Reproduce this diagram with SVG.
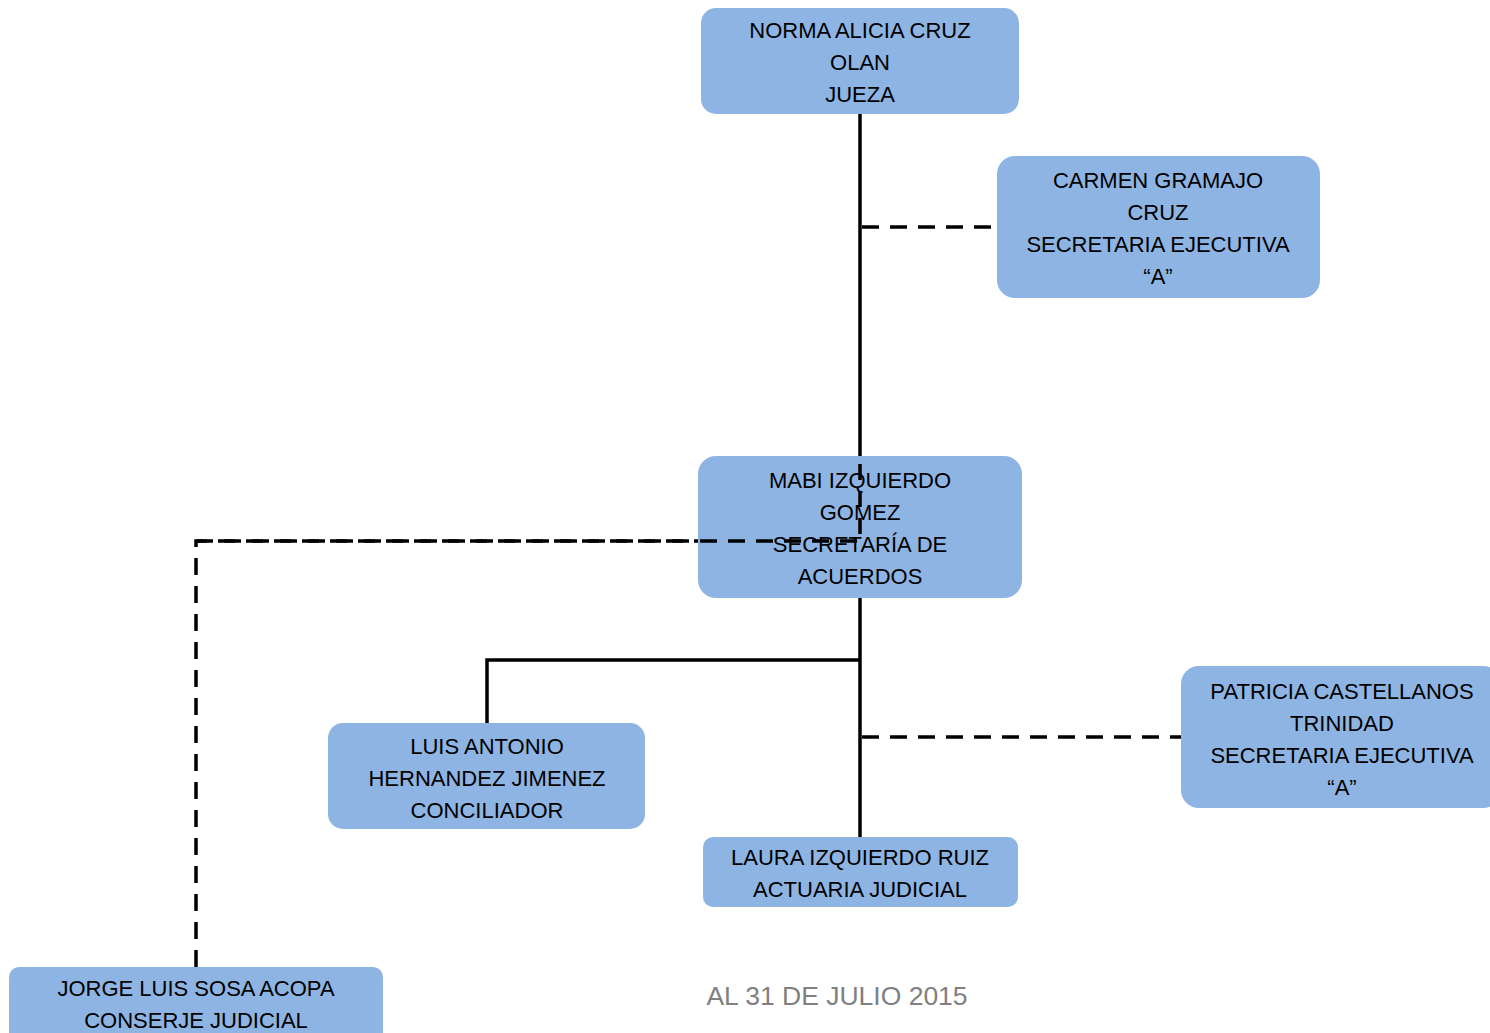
<svg xmlns="http://www.w3.org/2000/svg" width="1490" height="1033" viewBox="0 0 1490 1033">
<style>
.box{fill:#8EB4E3;stroke:none}
.t{font-family:"Liberation Sans",Arial,sans-serif;font-size:22px;fill:#000;text-anchor:middle}
.solid{stroke:#000;stroke-width:3.5;fill:none}
.dash{stroke:#000;stroke-width:3.5;fill:none;stroke-dasharray:17 11}
.foot{font-family:"Liberation Sans",Arial,sans-serif;font-size:26.5px;fill:#808080;text-anchor:middle}
</style>
<rect width="1490" height="1033" fill="#fff"/>
<g id="connectors-under">
<line class="solid" x1="860" y1="114" x2="860" y2="456"/>
<line class="solid" x1="860" y1="598" x2="860" y2="837"/>
<polyline class="solid" points="487,723 487,660 860,660"/>
<line class="dash" x1="862" y1="227" x2="997" y2="227"/>
<line class="dash" x1="862" y1="737" x2="1181" y2="737"/>
<polyline class="dash" points="196,967 196,541 860,541"/>
</g>
<g id="n1"><rect class="box" x="701" y="8" width="318" height="106" rx="15"/>
<text class="t" x="860" y="38">NORMA ALICIA CRUZ</text><text class="t" x="860" y="70">OLAN</text><text class="t" x="860" y="102">JUEZA</text></g>
<g id="n2"><rect class="box" x="997" y="156" width="323" height="142" rx="18"/>
<text class="t" x="1158" y="188">CARMEN GRAMAJO</text><text class="t" x="1158" y="220">CRUZ</text><text class="t" x="1158" y="252">SECRETARIA EJECUTIVA</text><text class="t" x="1158" y="284">“A”</text></g>
<g id="n3"><rect class="box" x="698" y="456" width="324" height="142" rx="18"/>
<text class="t" x="860" y="488">MABI IZQUIERDO</text><text class="t" x="860" y="520">GOMEZ</text><text class="t" x="860" y="552">SECRETARÍA DE</text><text class="t" x="860" y="584">ACUERDOS</text></g>
<g id="connectors-over">
<line class="dash" x1="860" y1="464" x2="860" y2="541" style="stroke-dasharray:16 11"/>
<polyline class="dash" points="196,541 860,541"/>
</g>
<g id="n4"><rect class="box" x="328" y="723" width="317" height="106" rx="15"/>
<text class="t" x="487" y="754">LUIS ANTONIO</text><text class="t" x="487" y="786">HERNANDEZ JIMENEZ</text><text class="t" x="487" y="818">CONCILIADOR</text></g>
<g id="n5"><rect class="box" x="703" y="837" width="315" height="70" rx="10"/>
<text class="t" x="860" y="865">LAURA IZQUIERDO RUIZ</text><text class="t" x="860" y="897">ACTUARIA JUDICIAL</text></g>
<g id="n6"><rect class="box" x="1181" y="666" width="320" height="142" rx="18"/>
<text class="t" x="1342" y="699">PATRICIA CASTELLANOS</text><text class="t" x="1342" y="731">TRINIDAD</text><text class="t" x="1342" y="763">SECRETARIA EJECUTIVA</text><text class="t" x="1342" y="795">“A”</text></g>
<g id="n7"><rect class="box" x="9" y="967" width="374" height="80" rx="10"/>
<text class="t" x="196" y="996">JORGE LUIS SOSA ACOPA</text><text class="t" x="196" y="1028">CONSERJE JUDICIAL</text></g>
<text class="foot" x="837" y="1005">AL 31 DE JULIO 2015</text>
</svg>
